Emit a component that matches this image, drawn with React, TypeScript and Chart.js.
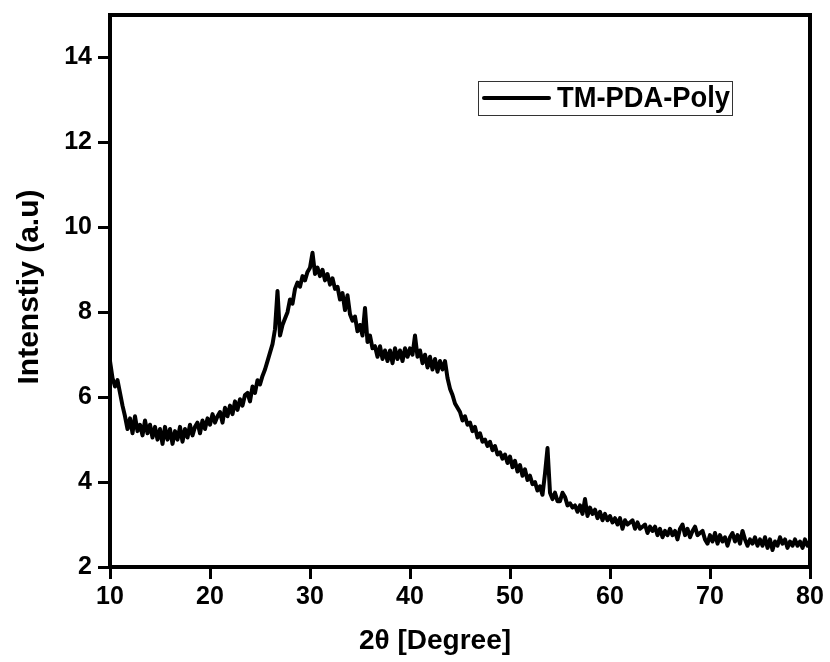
import React, { useEffect, useRef } from "react";
import { Chart, registerables } from "chart.js";

Chart.register(...registerables);

// 2θ sampling grid (degrees)
const TWO_THETA_START = 10;
const TWO_THETA_STEP = 0.25;

const intensity10to15 = [6.85, 6.45, 6.25, 6.4, 6.1, 5.8, 5.55, 5.25, 5.5, 5.15, 5.55, 5.2, 5.35, 5.1, 5.45, 5.15, 5.35, 5.05, 5.3, 5.0];
const intensity15to20 = [5.25, 4.9, 5.3, 5.0, 5.25, 4.9, 5.2, 5.0, 5.3, 4.95, 5.25, 5.05, 5.35, 5.1, 5.3, 5.4, 5.15, 5.45, 5.25, 5.5];
const intensity20to25 = [5.35, 5.6, 5.4, 5.55, 5.65, 5.4, 5.75, 5.55, 5.8, 5.6, 5.9, 5.7, 5.95, 5.8, 6.05, 6.1, 5.9, 6.25, 6.1, 6.4];
const intensity25to30 = [6.3, 6.5, 6.65, 6.85, 7.05, 7.25, 7.6, 8.5, 7.45, 7.7, 7.85, 8.0, 8.3, 8.2, 8.55, 8.7, 8.6, 8.85, 8.75, 8.95];
const intensity30to35 = [9.05, 9.4, 8.9, 9.05, 8.85, 9.0, 8.75, 8.9, 8.65, 8.8, 8.55, 8.6, 8.3, 8.45, 8.05, 8.4, 7.95, 7.8, 7.9, 7.55];
const intensity35to40 = [7.7, 7.45, 8.1, 7.3, 7.45, 7.15, 7.2, 6.95, 7.2, 6.9, 7.1, 6.85, 7.1, 6.8, 7.15, 6.9, 7.1, 6.85, 7.15, 6.95];
const intensity40to45 = [7.15, 7.0, 7.45, 6.95, 7.1, 6.8, 7.0, 6.7, 6.95, 6.65, 6.9, 6.6, 6.85, 6.65, 6.85, 6.45, 6.2, 6.05, 5.85, 5.75];
const intensity45to50 = [5.65, 5.45, 5.55, 5.35, 5.4, 5.2, 5.3, 5.05, 5.15, 4.95, 5.0, 4.85, 4.95, 4.75, 4.85, 4.65, 4.7, 4.55, 4.65, 4.45];
const intensity50to55 = [4.6, 4.35, 4.5, 4.25, 4.4, 4.15, 4.3, 4.05, 4.15, 3.95, 4.0, 3.8, 3.9, 3.7, 4.2, 4.8, 3.75, 3.6, 3.75, 3.55];
const intensity55to60 = [3.55, 3.75, 3.65, 3.45, 3.5, 3.4, 3.45, 3.3, 3.45, 3.25, 3.6, 3.2, 3.4, 3.25, 3.35, 3.15, 3.3, 3.1, 3.25, 3.1];
const intensity60to65 = [3.2, 3.05, 3.15, 3.0, 3.15, 2.9, 3.1, 3.0, 3.05, 3.1, 2.9, 3.05, 2.9, 2.95, 3.0, 2.8, 2.95, 2.85, 2.95, 2.75];
const intensity65to70 = [2.9, 2.7, 2.85, 2.75, 2.9, 2.75, 2.85, 2.65, 2.9, 3.0, 2.75, 2.9, 2.7, 2.85, 2.95, 2.75, 2.8, 2.85, 2.65, 2.55];
const intensity70to75 = [2.75, 2.6, 2.8, 2.55, 2.75, 2.6, 2.7, 2.5, 2.7, 2.8, 2.6, 2.75, 2.55, 2.85, 2.65, 2.5, 2.65, 2.55, 2.7, 2.5];
const intensity75to80 = [2.65, 2.5, 2.7, 2.45, 2.65, 2.4, 2.6, 2.5, 2.7, 2.55, 2.65, 2.45, 2.6, 2.5, 2.65, 2.5, 2.6, 2.45, 2.65, 2.5];
const intensityAt80 = [2.6];

const X_TICKS = [10, 20, 30, 40, 50, 60, 70, 80];
const Y_TICKS = [2, 4, 6, 8, 10, 12, 14];

const SERIES_LABEL = "TM-PDA-Poly";
const X_TITLE = "2θ [Degree]";
const Y_TITLE = "Intenstiy (a.u)";

const FONT = '"Liberation Sans", Arial, sans-serif';

export default function App() {
  const ref = useRef<HTMLCanvasElement | null>(null);

  useEffect(() => {
    const canvas = ref.current;
    if (!canvas) return;
    const intensity = [
      ...intensity10to15, ...intensity15to20, ...intensity20to25, ...intensity25to30,
      ...intensity30to35, ...intensity35to40, ...intensity40to45, ...intensity45to50,
      ...intensity50to55, ...intensity55to60, ...intensity60to65, ...intensity65to70,
      ...intensity70to75, ...intensity75to80, ...intensityAt80,
    ];
    const points = intensity.map((y, i) => ({ x: TWO_THETA_START + i * TWO_THETA_STEP, y }));

    const decor = {
      id: "decor",
      afterDraw(chart: any) {
        const { ctx, chartArea } = chart;
        ctx.save();
        // frame
        ctx.strokeStyle = "#000";
        ctx.lineWidth = 4;
        ctx.strokeRect(chartArea.left, chartArea.top, chartArea.right - chartArea.left, chartArea.bottom - chartArea.top);
        // titles
        ctx.fillStyle = "#000";
        ctx.textAlign = "center";
        ctx.textBaseline = "middle";
        ctx.font = `bold 28px ${FONT}`;
        ctx.fillText(X_TITLE, 435, 641, 162);
        ctx.save();
        ctx.translate(30, 287);
        ctx.rotate(-Math.PI / 2);
        ctx.font = `bold 30px ${FONT}`;
        ctx.fillText(Y_TITLE, 0, 0, 203);
        ctx.restore();
        // legend
        ctx.lineWidth = 1;
        ctx.strokeStyle = "#333";
        ctx.strokeRect(478.5, 81.5, 254, 34);
        ctx.strokeStyle = "#000";
        ctx.lineWidth = 4;
        ctx.lineCap = "round";
        ctx.beginPath();
        ctx.moveTo(484, 98);
        ctx.lineTo(549, 98);
        ctx.stroke();
        ctx.textAlign = "left";
        ctx.textBaseline = "alphabetic";
        ctx.font = `bold 30px ${FONT}`;
        ctx.fillText(SERIES_LABEL, 557, 107, 173);
        ctx.restore();
      },
    };

    const chart = new Chart(canvas, {
      type: "line",
      data: {
        datasets: [
          {
            label: SERIES_LABEL,
            data: points,
            borderColor: "#000",
            borderWidth: 4,
            pointRadius: 0,
            tension: 0,
            borderJoinStyle: "round",
            fill: false,
          },
        ],
      },
      options: {
        responsive: false,
        animation: false,
        devicePixelRatio: 1,
        layout: { padding: { left: 0, top: 15, right: 20, bottom: 0 } },
        plugins: { legend: { display: false }, tooltip: { enabled: false } },
        scales: {
          x: {
            type: "linear",
            min: 10,
            max: 80,
            afterFit: (s: any) => { s.height = 95; s.paddingLeft = 0; s.paddingRight = 0; },
            afterBuildTicks: (s: any) => { s.ticks = X_TICKS.map((v) => ({ value: v })); },
            ticks: { color: "#000", font: { family: FONT, size: 25, weight: "bold" }, padding: 3, maxRotation: 0 },
            grid: { drawOnChartArea: false, drawTicks: true, tickLength: 12, color: "#000", lineWidth: 3 },
            border: { display: false },
          },
          y: {
            type: "linear",
            min: 2,
            max: 15,
            afterFit: (s: any) => { s.width = 110; s.paddingTop = 0; s.paddingBottom = 0; },
            afterBuildTicks: (s: any) => { s.ticks = Y_TICKS.map((v) => ({ value: v })); },
            ticks: { color: "#000", font: { family: FONT, size: 25, weight: "bold" }, padding: 6 },
            grid: { drawOnChartArea: false, drawTicks: true, tickLength: 12, color: "#000", lineWidth: 3 },
            border: { display: false },
          },
        },
      },
      plugins: [decor],
    } as any);

    return () => chart.destroy();
  }, []);

  return (
    <div style={{ position: "absolute", left: 0, top: 0, width: 830, height: 662, background: "#fff" }}>
      <canvas ref={ref} width={830} height={662} style={{ display: "block" }} />
    </div>
  );
}
